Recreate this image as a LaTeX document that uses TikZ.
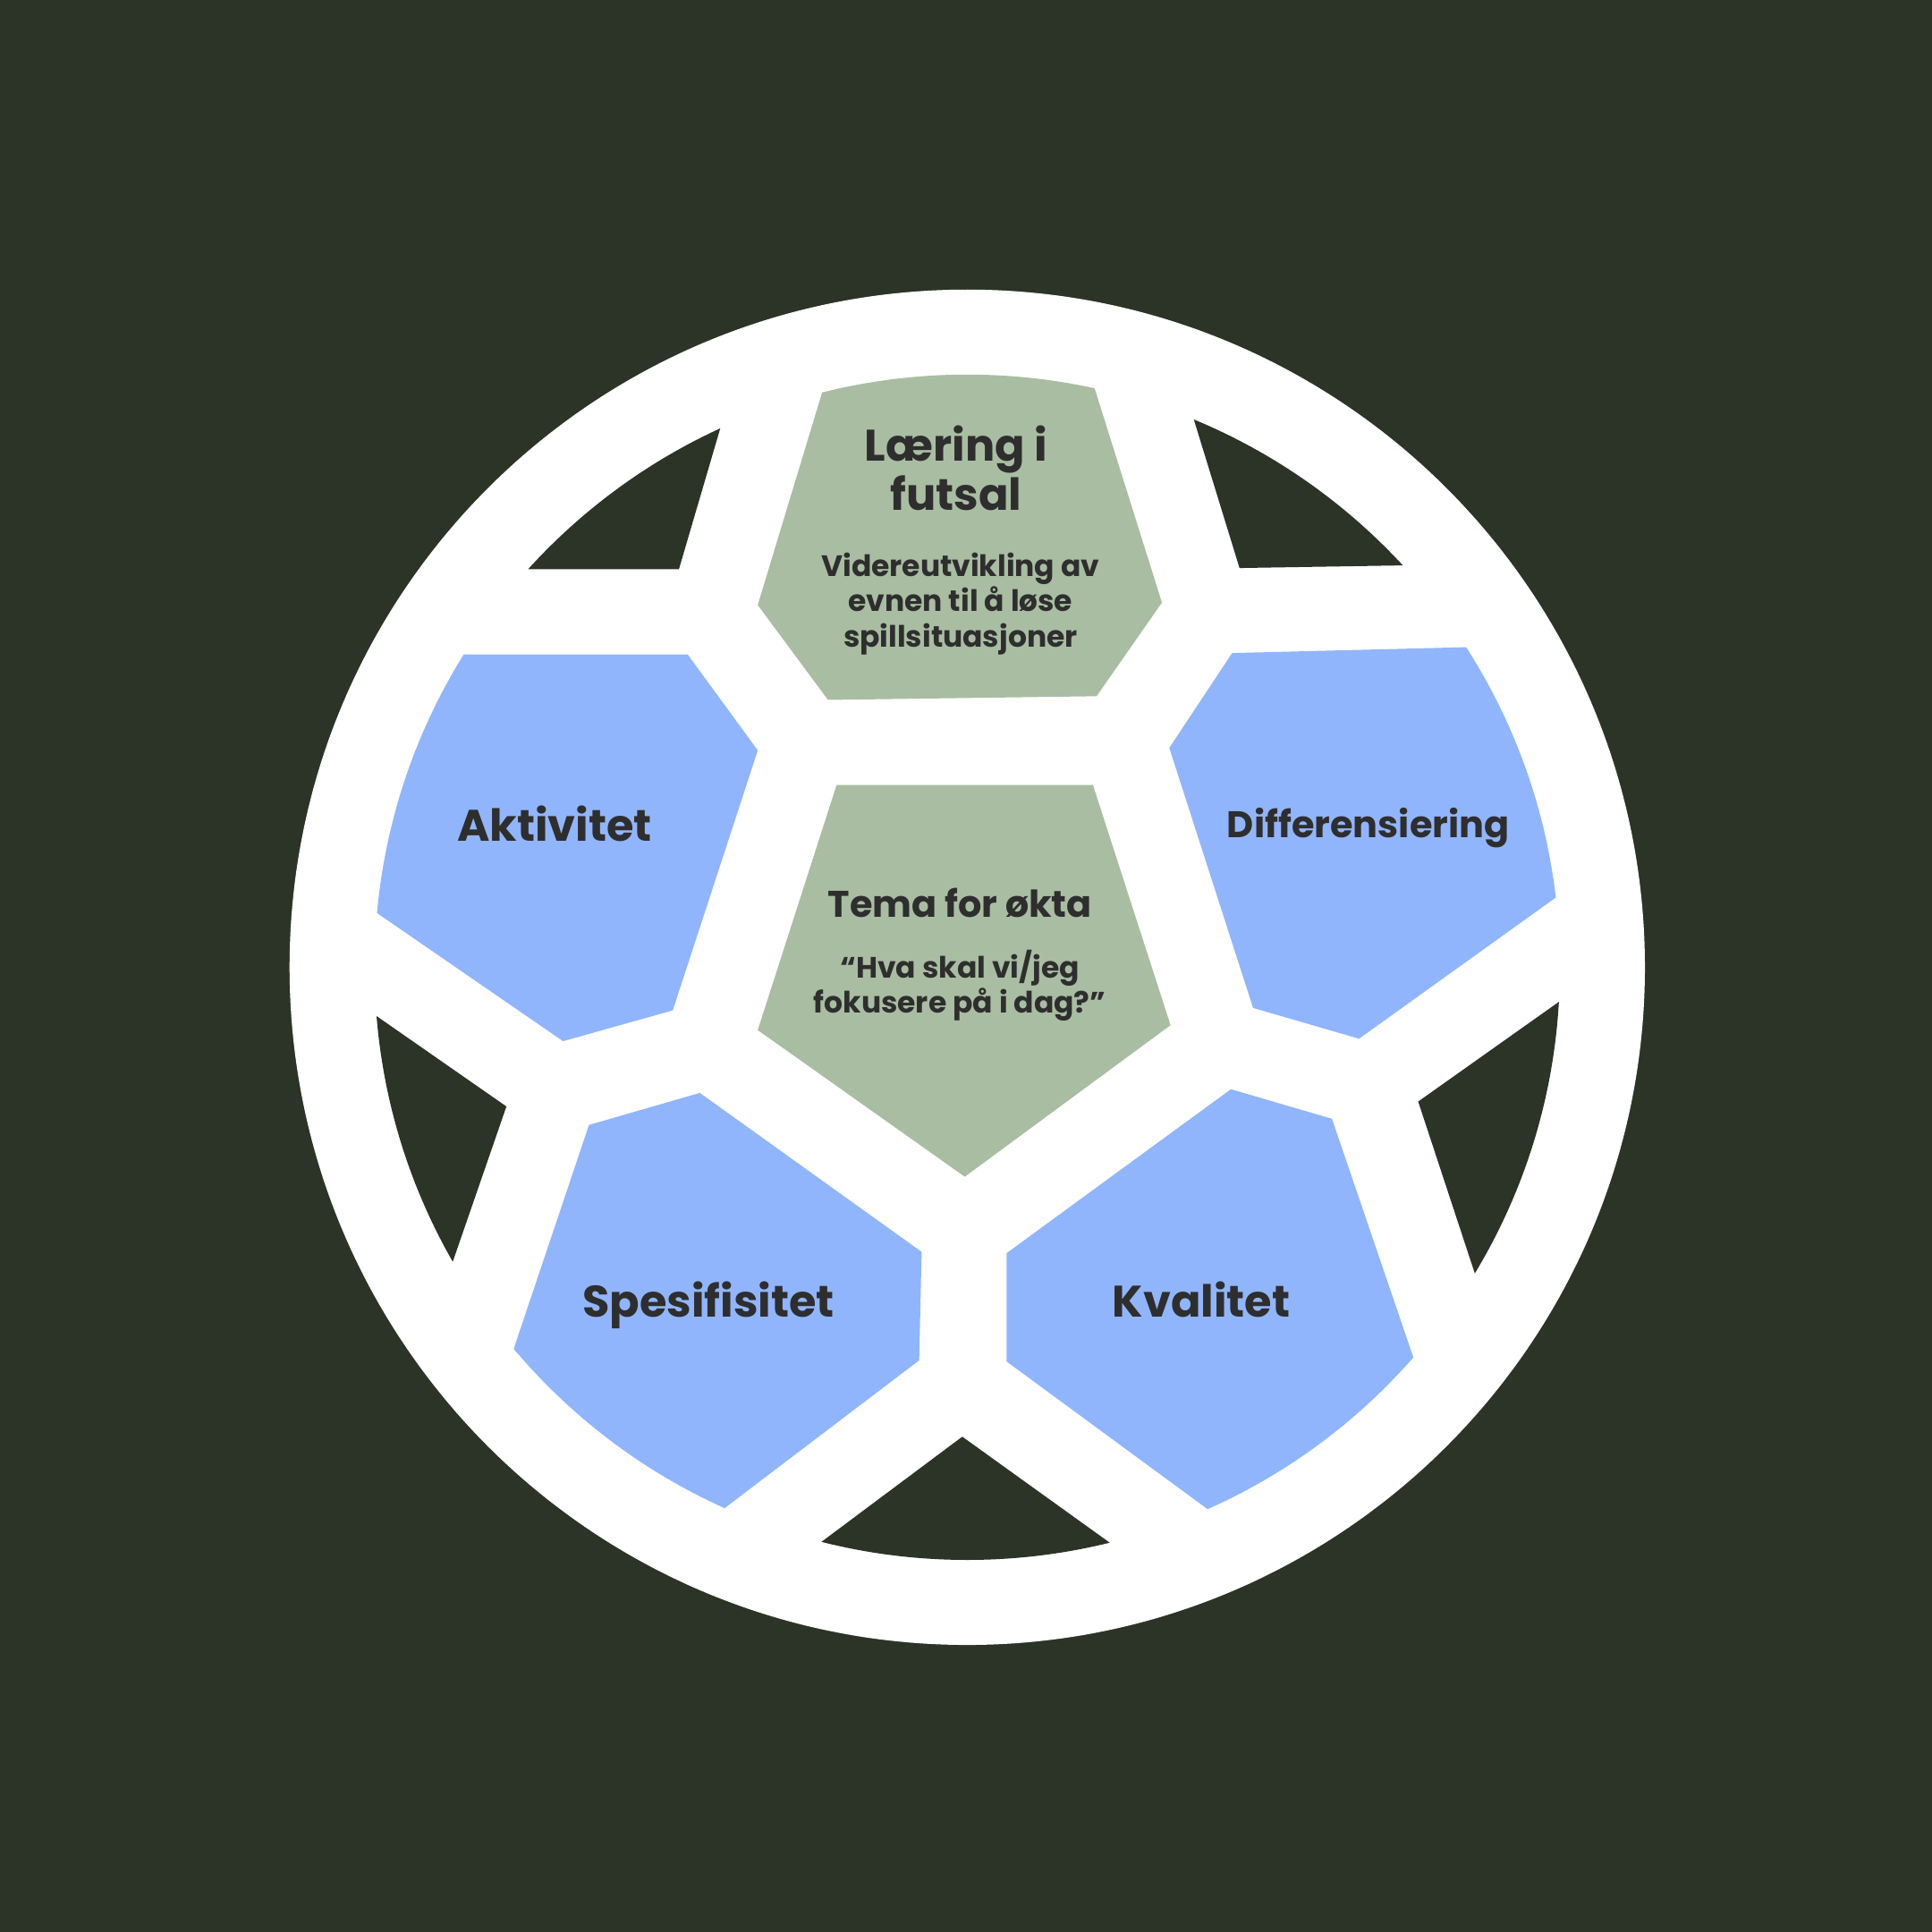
\documentclass[tikz,border=0pt]{standalone}
\usepackage{fontspec}
\setmainfont{Poppins}
\usetikzlibrary{positioning}
\definecolor{pitch}{HTML}{2B3426}
\definecolor{sage}{HTML}{A9BDA2}
\definecolor{sky}{HTML}{91B5FD}
\definecolor{ink}{HTML}{2E2E2E}
\tikzset{
  hole/.style={fill=pitch},
  sagepatch/.style={fill=sage},
  skypatch/.style={fill=sky},
  bigtxt/.style={text=ink, align=center, inner sep=0pt, font=\bfseries\fontsize{10.2}{11.3}\selectfont},
  midtxt/.style={text=ink, align=center, inner sep=0pt, font=\bfseries\fontsize{8.55}{9.5}\selectfont},
  smalltxt/.style={text=ink, align=center, inner sep=0pt, font=\bfseries\fontsize{6.8}{8.16}\selectfont}
}
\begin{document}
\begin{tikzpicture}[x=0.01cm, y=-0.01cm]
  \fill[pitch] (0,0) rectangle (1568,1568);
  \useasboundingbox (0,0) rectangle (1568,1568);
  \coordinate (ball) at (785,785);
  \fill[white] (ball) circle (550);

  \begin{scope}
    \clip (ball) circle (481);
    % dark holes
    \fill[hole] (551,462) -- (595,312) -- (420,330) -- (380,462) -- cycle;
    \fill[hole] (1006,461) -- (958,305) -- (1150,330) -- (1190,458) -- cycle;
    \fill[hole] (411,898) -- (276,804) -- (270,950) -- (355,1060) -- cycle;
    \fill[hole] (1151,894) -- (1302,787) -- (1300,950) -- (1210,1073) -- cycle;
    \fill[hole] (781,1166) -- (934,1276) -- (785,1300) -- (631,1278) -- cycle;
    % green patches
    \fill[sagepatch] (672,568) -- (615,491) -- (688,250) -- (866,244) -- (943,489) -- (890,565) -- cycle;
    \fill[sagepatch] (679,637) -- (887,637) -- (950,832) -- (783,955) -- (615,836) -- cycle;
    % blue patches
    \fill[skypatch] (558,531) -- (615,609) -- (546,820) -- (457,845) -- (261,710) -- (250,531) -- cycle;
    \fill[skypatch] (949,607) -- (1000,530) -- (1240,524) -- (1312,693) -- (1103,843) -- (1017,818) -- cycle;
    \fill[skypatch] (478,913) -- (568,887) -- (748,1016) -- (746,1104) -- (542,1259) -- (440,1230) -- (399,1148) -- cycle;
    \fill[skypatch] (817,1017) -- (999,884) -- (1081,908) -- (1167,1160) -- (1130,1230) -- (1028,1260) -- (817,1105) -- cycle;
  \end{scope}

  % texts
  \node[bigtxt] (laering) at (776,380) {Læring i\\futsal};
  \node[smalltxt] (laeringsub) at (779.5,490) {Videreutvikling av\\evnen til å løse\\spillsituasjoner};
  \node[midtxt, anchor=base] (tema) at (779,744.6) {Tema for økta};
  \node[smalltxt] (temasub) at (779,800) {“Hva skal vi/jeg\\fokusere på i dag?”};
  \node[bigtxt, anchor=base] (aktivitet) at (450,683) {Aktivitet};
  \node[midtxt, anchor=base] (diff) at (1110.5,679.5) {Differensiering};
  \node[bigtxt, anchor=base] (spes) at (575,1069) {Spesifisitet};
  \node[bigtxt, anchor=base] (kval) at (975,1069) {Kvalitet};
\end{tikzpicture}
\end{document}
